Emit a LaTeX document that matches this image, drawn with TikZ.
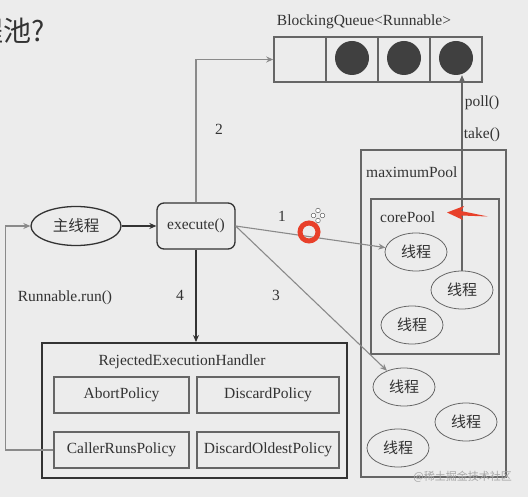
\documentclass[tikz,border=0pt]{standalone}
\usepackage{fontspec}
\setmainfont{Liberation Serif}
\newfontfamily\cjk{Noto Sans CJK SC}
\usetikzlibrary{shapes.geometric,arrows.meta}
\definecolor{bg}{HTML}{ECECEC}
\definecolor{ink}{HTML}{333333}
\definecolor{ln}{HTML}{8A8A8A}
\definecolor{mid}{HTML}{666666}
\definecolor{redm}{HTML}{E8402A}
\tikzset{
  lbl/.style={font=\fontsize{15.5}{16}\selectfont, text=ink, inner sep=0pt},
  thr/.style={ellipse, draw=mid, line width=0.8pt, minimum width=62pt, minimum height=38pt, inner sep=0pt, font=\cjk\fontsize{15}{16}\selectfont, text=ink, fill=bg},
  pol/.style={draw=mid, line width=1.6pt, minimum width=135pt, minimum height=36pt, inner sep=0pt, font=\fontsize{15.5}{16}\selectfont, text=ink},
  garr/.style={draw=ln, line width=1.1pt, -{Stealth[length=7pt,width=6pt]}},
  darr/.style={draw=ink, line width=1.3pt, -{Stealth[length=7pt,width=6pt]}},
}
\begin{document}
\begin{tikzpicture}[x=1pt,y=-1pt]
\fill[bg] (0,0) rectangle (528,497);
\useasboundingbox (0,0) rectangle (528,497);
% title (cut at left)
\begin{scope}
\clip (0,0) rectangle (528,497);
\node[anchor=east, inner sep=0pt, font=\cjk\fontsize{28}{30}\selectfont, text=ink] (title) at (45,31) {线程池?};
\end{scope}
% queue
\node[lbl] (qlabel) at (364,22) {BlockingQueue<Runnable>};
\node[draw=mid, line width=1.6pt, minimum width=208pt, minimum height=45pt, inner sep=0pt] (queue) at (378,59.5) {};
\draw[mid, line width=1.6pt] (326,37) -- (326,82) (378,37) -- (378,82) (430,37) -- (430,82);
\node[circle, fill=black!75, minimum size=34pt, inner sep=0pt] (c2) at (352,58) {};
\node[circle, fill=black!75, minimum size=34pt, inner sep=0pt] (c3) at (404,58) {};
\node[circle, fill=black!75, minimum size=34pt, inner sep=0pt] (c4) at (456,58) {};
% pools
\node[draw=mid, line width=1.4pt, minimum width=145pt, minimum height=327pt, inner sep=0pt] (maxpool) at (433.5,313.5) {};
\node[lbl, anchor=west] (maxlabel) at (366,172) {maximumPool};
\node[draw=mid, line width=1.8pt, minimum width=128pt, minimum height=155pt, inner sep=0pt] (corepool) at (435,276.5) {};
\node[lbl, anchor=west] (corelabel) at (380,217) {corePool};
\node[thr] (t1) at (416,252) {线程};
\node[thr] (t2) at (462,290) {线程};
\node[thr] (t3) at (412,325) {线程};
\node[thr] (ta) at (404,387) {线程};
\node[thr] (tb) at (466,422) {线程};
\node[thr] (tc) at (398,448) {线程};
% main thread and execute
\node[ellipse, draw=ink, line width=1.3pt, minimum width=90pt, minimum height=39pt, inner sep=0pt, font=\cjk\fontsize{15.5}{16}\selectfont, text=ink] (main) at (76,226) {主线程};
\node[draw=ink, line width=1.3pt, rounded corners=7pt, minimum width=78pt, minimum height=46pt, inner sep=0pt, font=\fontsize{15.5}{16}\selectfont, text=ink] (exec) at (196,226) {execute()};
% rejected handler
\node[draw=ink, line width=2pt, minimum width=305pt, minimum height=135pt, inner sep=0pt] (rej) at (194.5,410.5) {};
\node[lbl] (rejlabel) at (182,362) {RejectedExecutionHandler};
\node[pol] (abort) at (121.5,395) {AbortPolicy};
\node[pol, minimum width=142pt] (discard) at (268,395) {DiscardPolicy};
\node[pol] (caller) at (121.5,450) {CallerRunsPolicy};
\node[pol, minimum width=142pt] (oldest) at (268,450) {DiscardOldestPolicy};
% connectors
\draw[darr] (main) -- (exec);
\draw[garr] (exec.north) |- (queue.west);
\node[lbl] (n2) at (219,129) {2};
\draw[garr] (exec.east) -- (t1);
\node[lbl] (n1) at (282,216) {1};
\draw[garr] (exec.east) -- (ta);
\node[lbl] (n3) at (276,295) {3};
\draw[darr] (exec.south) -- (exec.south |- rej.north);
\node[lbl] (n4) at (180,295) {4};
\draw[draw=ln, line width=1.1pt, -{Stealth[length=7pt,width=6pt]}] (caller.west) -- ++(-48,0) coordinate (lc) |- (main.west);
\node[lbl] (runlbl) at (65,298) {Runnable.run()};
\draw[draw=mid, line width=1.1pt, -{Stealth[length=7pt,width=6pt]}] (t2.north) -- (t2.north |- c4.south);
\node[lbl] (poll) at (482,103) {poll()};
\node[lbl] (take) at (482,135) {take()};
% red annotations
\fill[redm] (447,212.5) -- (464,206) -- (461,211) -- (488,216.5) -- (461,215.5) -- (463,220) -- cycle;
\draw[redm, line width=5pt] (309,232) circle[radius=9];
\foreach \p in {(318,210.5),(313.5,215.5),(322.5,215.5),(318,220.5)} \draw[mid, fill=white, line width=0.5pt] \p circle[radius=2.3];
% watermark
\node[font=\cjk\fontsize{11}{12}\selectfont, text=black!35, anchor=east, inner sep=0pt] (wm) at (512,477) {@稀土掘金技术社区};
\end{tikzpicture}
\end{document}
